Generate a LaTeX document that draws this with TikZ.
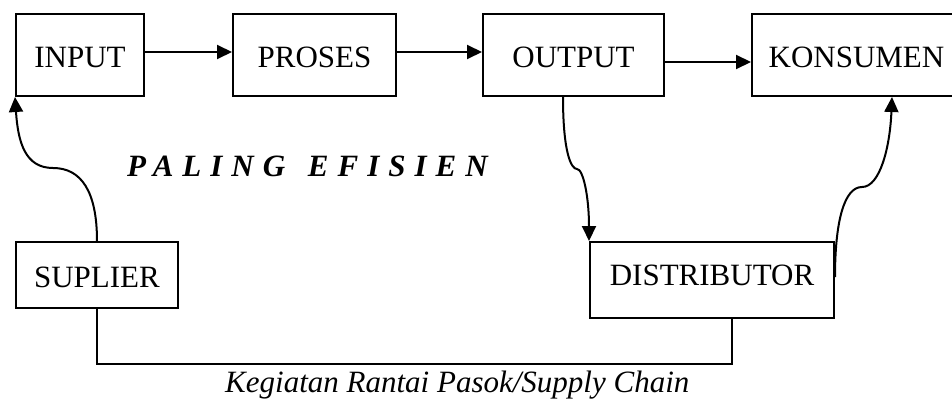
\documentclass[tikz,border=0pt]{standalone}
\usepackage{fontspec}
\setmainfont{Liberation Serif}
\newfontfamily\spacedfont[LetterSpace=29]{Liberation Serif}
\usetikzlibrary{arrows.meta}
\tikzset{
  box/.style={draw, line width=2pt, inner sep=0pt, anchor=base, align=center,
    font=\fontsize{31}{37}\selectfont},
  topbox/.style={box, text height=53pt, text depth=29pt},
  arr/.style={line width=2pt, -{Triangle[length=15pt,width=14pt]}},
  ln/.style={line width=2pt},
  lbl/.style={inner sep=0pt, anchor=base west}
}
\begin{document}
\begin{tikzpicture}[x=1pt,y=1pt]
\useasboundingbox (0,0) rectangle (952,400);
\node[topbox, minimum width=128pt] (input) at (80,333) {INPUT};
\node[topbox, minimum width=163pt] (proses) at (314.5,333) {PROSES};
\node[topbox, minimum width=181pt] (output) at (573.5,333) {OUTPUT};
\node[topbox, minimum width=209pt] (konsumen) at (856.5,333) {KONSUMEN};
\node[box, minimum width=162pt, text height=45pt, text depth=21pt] (suplier) at (97,113) {SUPLIER};
\node[box, minimum width=244pt, text height=43pt, text depth=33pt] (distributor) at (712,115) {DISTRIBUTOR};

\draw[arr] ([yshift=3pt]input.east) -- ([yshift=3pt]proses.west);
\draw[arr] ([yshift=3pt]proses.west -| proses.east) -- ([yshift=3pt]output.west);
\draw[arr] ([yshift=-7pt]output.east) -- ([yshift=-7pt]konsumen.west);

\coordinate (c1) at (53,232);
\draw[arr] (suplier.north) .. controls +(0,50) and +(28,0) .. (c1)
  .. controls +(-28,0) and +(3,-45) .. (input.south west);

\coordinate (c2) at (577,231);
\draw[arr] ([xshift=-10.5pt]output.south) .. controls +(0,-55) and +(-6,0) .. (c2)
  .. controls +(6,0) and +(0,45) .. (distributor.north west);

\coordinate (c3) at (862,213);
\draw[arr] ([yshift=3pt]distributor.east) .. controls +(0,55) and +(-18,0) .. (c3)
  .. controls +(18,0) and +(-2,-50) .. ([xshift=35.5pt]konsumen.south);

\draw[ln] (suplier.south) -- ++(0,-55) -| ([xshift=20pt]distributor.south);

\node[lbl, font=\fontsize{31}{37}\spacedfont\bfseries\itshape] (paling) at (127,224) {PALING\hspace{6pt} EFISIEN};
\node[lbl, font=\fontsize{31}{37}\selectfont\itshape] (caption) at (225,8) {Kegiatan Rantai Pasok/Supply Chain};
\end{tikzpicture}
\end{document}
